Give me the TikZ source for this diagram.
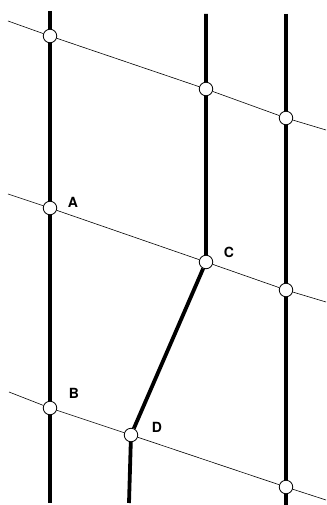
\documentclass[tikz,border=0pt]{standalone}
\usepackage{fontspec}
\setsansfont{TeX Gyre Heros}
\usetikzlibrary{backgrounds}

\begin{document}
\begin{tikzpicture}[x=1pt, y=-1pt,
    joint/.style={circle, draw, fill=white, line width=0.8pt, inner sep=0pt, minimum size=13.5pt},
    bar/.style={line width=3.8pt},
    ray/.style={line width=0.6pt},
    lbl/.style={font=\sffamily\bfseries\fontsize{14}{16}\selectfont}]
  \useasboundingbox (0,0) rectangle (326,505);
  % joints
  \node[joint] (p1) at (50,36) {};
  \node[joint] (A)  at (50,208) {};
  \node[joint] (B)  at (50,408) {};
  \node[joint] (p2) at (206,89) {};
  \node[joint] (C)  at (206,262) {};
  \node[joint] (D)  at (131,435) {};
  \node[joint] (q1) at (286,118) {};
  \node[joint] (q2) at (286,290) {};
  \node[joint] (q3) at (286,487) {};
  % free ends
  \coordinate (t1) at (50,11);   \coordinate (b1) at (50,503);
  \coordinate (t2) at (206,14);  \coordinate (b2) at (129,503);
  \coordinate (t3) at (286,14);  \coordinate (b3) at (286,505);
  \coordinate (s1) at (8,21);    \coordinate (e1) at (326,130);
  \coordinate (s2) at (8,194);   \coordinate (e2) at (326,302);
  \coordinate (s3) at (9,392);   \coordinate (e3) at (326,500);
  \begin{scope}[on background layer]
    \draw[bar] (t1) -- (p1) -- (A) -- (B) -- (b1);
    \draw[bar] (t2) -- (p2) -- (C) -- (D) -- (b2);
    \draw[bar] (t3) -- (q1) -- (q2) -- (q3) -- (b3);
    \draw[ray] (s1) -- (p1) -- (p2) -- (q1) -- (e1);
    \draw[ray] (s2) -- (A) -- (C) -- (q2) -- (e2);
    \draw[ray] (s3) -- (B) -- (D) -- (q3) -- (e3);
  \end{scope}
  % labels
  \node[lbl] (lA) at (73,202) {A};
  \node[lbl] (lB) at (74,393) {B};
  \node[lbl] (lC) at (229,252) {C};
  \node[lbl] (lD) at (157,427) {D};
\end{tikzpicture}
\end{document}
